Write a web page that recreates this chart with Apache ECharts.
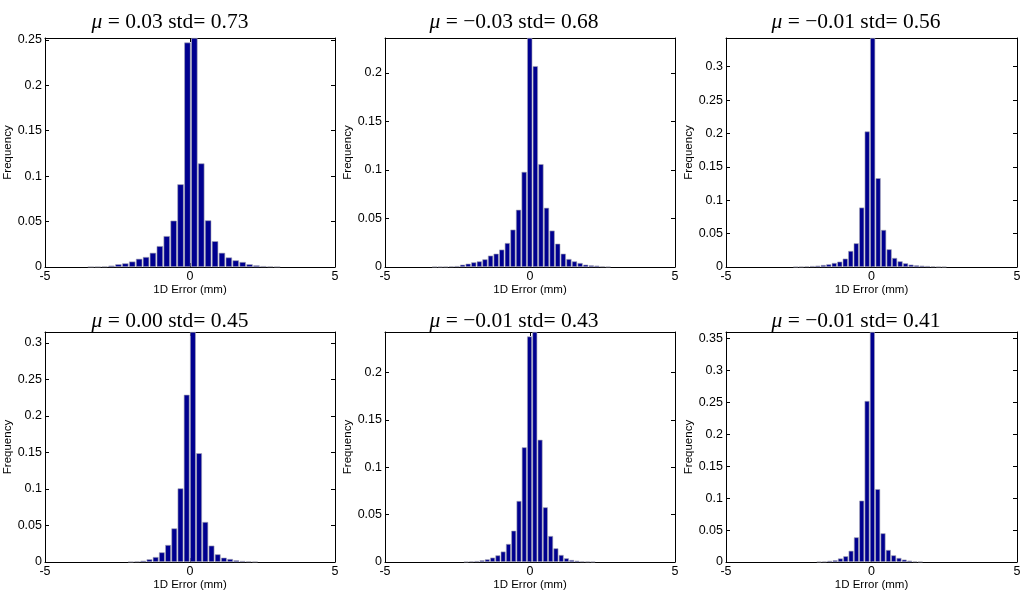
<!DOCTYPE html>
<html>
<head>
<meta charset="utf-8">
<script src="https://cdn.jsdelivr.net/npm/echarts@6/dist/echarts.min.js"></script>
<style>
html, body { margin: 0; padding: 0; background: #fff; }
#chart { width: 1035px; height: 600px; }
</style>
</head>
<body>
<div id="chart"></div>
<script>
// histogram frequencies, bins left to right
var freq1 = [0.0003, 0.0004, 0.0007, 0.0015, 0.003, 0.004, 0.006, 0.009, 0.011, 0.0156, 0.023, 0.034, 0.051, 0.091,
             0.247, 0.252, 0.114, 0.0513, 0.0284, 0.0156, 0.0105, 0.0073, 0.0055, 0.003, 0.0018, 0.001, 0.0007, 0.0004];
var freq2 = [0.0003, 0.0003, 0.0004, 0.0007, 0.001, 0.0024, 0.0034, 0.0048, 0.0058, 0.0079, 0.0117, 0.0137, 0.0179, 0.0247, 0.0385, 0.059, 0.098,
             0.236, 0.207, 0.106, 0.061, 0.0375, 0.024, 0.0137, 0.0082, 0.0058, 0.0041, 0.0024, 0.0017, 0.0014, 0.0007, 0.0003];
var freq3 = [0.0003, 0.0005, 0.001, 0.0015, 0.002, 0.003, 0.004, 0.006, 0.008, 0.0125, 0.024, 0.0355, 0.089, 0.203,
             0.343, 0.133, 0.0555, 0.0265, 0.0135, 0.0085, 0.0055, 0.0035, 0.0025, 0.002, 0.0015, 0.001, 0.0005, 0.0004];
var freq4 = [0.0004, 0.0009, 0.0018, 0.0037, 0.0068, 0.0132, 0.0233, 0.046, 0.1008, 0.229,
             0.315, 0.149, 0.0548, 0.0224, 0.0105, 0.0059, 0.0041, 0.0023, 0.0014, 0.0009, 0.0005];
var freq5 = [0.0003, 0.0007, 0.001, 0.0018, 0.0028, 0.0046, 0.007, 0.011, 0.019, 0.033, 0.0644, 0.121, 0.238,
             0.2427, 0.129, 0.0577, 0.0274, 0.0144, 0.0074, 0.0039, 0.0021, 0.0014, 0.0007, 0.0005, 0.0003];
var freq6 = [0.0004, 0.0008, 0.0018, 0.0028, 0.0055, 0.009, 0.0175, 0.0386, 0.096, 0.252,
             0.36, 0.114, 0.0449, 0.0188, 0.0104, 0.0063, 0.0037, 0.0021, 0.001, 0.0005];

// centre of first bin and bin width (mm) for each panel
var binStart = [-3.42, -3.29, -2.60, -2.04, -2.20, -1.80];
var binWidth = [0.238, 0.193, 0.1886, 0.214, 0.182, 0.183];

// y axis top (axis tight) and tick labels of x
var yMax = [0.252, 0.236, 0.343, 0.315, 0.2427, 0.36];
var xTicks = [-5, 0, 5];

var muText = ['0.03', '\u22120.03', '\u22120.01', '0.00', '\u22120.01', '\u22120.01'];
var stdText = ['0.73', '0.68', '0.56', '0.45', '0.43', '0.41'];

var allFreq = [freq1, freq2, freq3, freq4, freq5, freq6];

var chart = echarts.init(document.getElementById('chart'));

var sans = 'Liberation Sans, Arial, Helvetica, sans-serif';
var serif = 'Liberation Serif, Times New Roman, serif';
var grids = [], xAxes = [], yAxes = [], series = [], texts = [];
var colLeft = [45, 385, 726];
var colWidth = [290, 290, 291];
var titleX = [170, 514, 856];

for (var k = 0; k < 6; k++) {
	var col = k % 3, row = Math.floor(k / 3);
	grids.push({
		left: colLeft[col], width: colWidth[col],
		top: row ? 332 : 38, height: row ? 230 : 229,
		containLabel: false, outerBoundsMode: 'none'
	});
	var line = {show: true, onZero: false, lineStyle: {color: '#000', width: 1}};
	var tick = {show: true, inside: true, length: 4, lineStyle: {color: '#000'}};
	// bottom and top x axes
	xAxes.push({
		gridIndex: k, type: 'value', min: xTicks[0], max: xTicks[2], interval: xTicks[1] - xTicks[0],
		axisLine: line, axisTick: tick, splitLine: {show: false},
		axisLabel: {color: '#000', fontFamily: sans, fontSize: 12.5, margin: 3},
		name: '1D Error (mm)', nameLocation: 'middle', nameGap: 11,
		nameTextStyle: {color: '#000', fontFamily: sans, fontSize: 11.5}
	});
	xAxes.push({
		gridIndex: k, type: 'value', position: 'top', min: xTicks[0], max: xTicks[2], interval: xTicks[1] - xTicks[0],
		axisLine: line, axisTick: tick, splitLine: {show: false}, axisLabel: {show: false}
	});
	// left and right y axes
	yAxes.push({
		gridIndex: k, type: 'value', min: 0, max: yMax[k], interval: 0.05,
		axisLine: line, axisTick: tick, splitLine: {show: false},
		axisLabel: {color: '#000', fontFamily: sans, fontSize: 12.5, margin: 3, showMaxLabel: false},
		name: 'Frequency', nameLocation: 'middle', nameGap: 25,
		nameTextStyle: {color: '#000', fontFamily: sans, fontSize: 11.5}
	});
	yAxes.push({
		gridIndex: k, type: 'value', position: 'right', min: 0, max: yMax[k], interval: 0.05,
		axisLine: line, axisTick: tick, splitLine: {show: false}, axisLabel: {show: false, showMaxLabel: false}
	});

	var pts = [];
	for (var i = 0; i < allFreq[k].length; i++) {
		pts.push([binStart[k] + i * binWidth[k], allFreq[k][i]]);
	}
	series.push({
		type: 'bar', xAxisIndex: 2 * k, yAxisIndex: 2 * k, data: pts,
		barCategoryGap: '8%', clip: true,
		itemStyle: {color: '#00008f', borderColor: '#a8a8b4', borderWidth: 0.6}
	});

	texts.push({
		type: 'text', x: titleX[col], y: row ? 332 : 33,
		style: {
			text: '{i|\u03bc} = ' + muText[k] + ' std= ' + stdText[k],
			fontFamily: serif, fontSize: 21.5, fill: '#000',
			align: 'center', verticalAlign: 'bottom',
			rich: {i: {fontStyle: 'italic', fontFamily: serif, fontSize: 21.5}}
		}
	});
}

chart.setOption({
	animation: false,
	grid: grids,
	xAxis: xAxes,
	yAxis: yAxes,
	series: series,
	graphic: texts
});
</script>
</body>
</html>
